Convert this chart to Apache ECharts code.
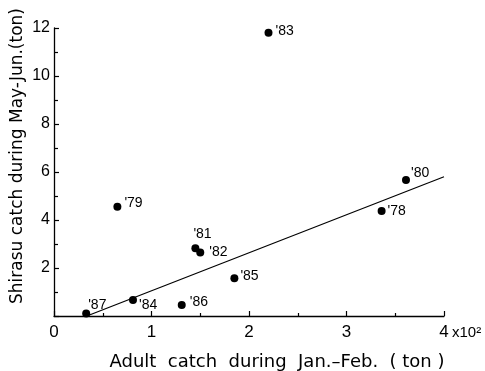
<!DOCTYPE html>
<html>
<head>
<meta charset="utf-8">
<script src="https://cdn.jsdelivr.net/npm/echarts@6/dist/echarts.min.js"></script>
<style>html,body{margin:0;padding:0;background:#fff;}#c{width:485px;height:371px;}</style>
</head>
<body>
<div id="c"></div>
<script>
// Data
var years = ["'87", "'84", "'79", "'86", "'81", "'82", "'85", "'83", "'80", "'78"];
var adultCatch = [0.33, 0.81, 0.65, 1.31, 1.45, 1.50, 1.85, 2.20, 3.61, 3.36]; // x10^2 ton
var shirasuCatch = [0.10, 0.67, 4.55, 0.46, 2.82, 2.65, 1.57, 11.80, 5.67, 4.37]; // ton
var regressionX = [0.35, 4.0];
var regressionY = [0.02, 5.8];
var xTicks = [0, 1, 2, 3, 4];
var yTicks = [0, 2, 4, 6, 8, 10, 12];

// label placement (style, kept separate from data)
var labelOffsets = {
  "'87": [-5, -8], "'84": [-1, 5], "'79": [0, -4], "'86": [1, -3], "'81": [-9, -14],
  "'82": [2, 0], "'85": [-1, -2], "'83": [0, -2], "'80": [-2, -7], "'78": [-1, 0]
};

var font = "'Liberation Sans', Arial, sans-serif";
var pts = years.map(function (y, i) {
  return {
    value: [adultCatch[i], shirasuCatch[i]],
    name: y,
    label: { offset: labelOffsets[y] }
  };
});
var line = regressionX.map(function (x, i) { return [x, regressionY[i]]; });

var chart = echarts.init(document.getElementById('c'), null, { renderer: 'canvas' });
chart.setOption({
  animation: false,
  backgroundColor: '#fff',
  title: {
    text: 'Adult  catch  during  Jan.\u2013Feb.  ( ton )',
    left: 272, top: 348, textAlign: 'center',
    textStyle: { fontFamily: "'DejaVu Sans', sans-serif", fontSize: 18, fontWeight: 'normal', color: '#000' }
  },
  grid: { left: 54, right: 41, top: 28, bottom: 55, containLabel: false, outerBoundsMode: 'none' },
  xAxis: {
    type: 'value', min: 0, max: 4, interval: 1,
    name: 'x10\u00b2', nameLocation: 'end', nameGap: 8, nameMoveOverlap: false,
    nameTextStyle: { fontFamily: font, fontSize: 15, color: '#000', verticalAlign: 'top', padding: [9, 0, 0, 0] },
    axisLine: { show: true, lineStyle: { color: '#000', width: 1.3 } },
    axisTick: { show: true, inside: true, length: 5, lineStyle: { color: '#000', width: 1.2 } },
    minorTick: { show: true, splitNumber: 2, length: 3, lineStyle: { color: '#000', width: 1.2 } },
    splitLine: { show: false },
    axisLabel: {
      fontFamily: font, fontSize: 17, color: '#000', margin: 8,
      formatter: function (v) { return xTicks.indexOf(v) >= 0 ? String(v) : ''; }
    }
  },
  yAxis: {
    type: 'value', min: 0, max: 12, interval: 2,
    name: 'Shirasu catch during May-Jun.(ton)', nameLocation: 'middle', nameGap: 28, nameRotate: 90,
    nameMoveOverlap: false,
    nameTextStyle: { fontFamily: "'DejaVu Sans', sans-serif", fontSize: 17, color: '#000', padding: [0, 0, 0, 32] },
    axisLine: { show: true, lineStyle: { color: '#000', width: 1.3 } },
    axisTick: { show: true, inside: true, length: 5, lineStyle: { color: '#000', width: 1.2 } },
    minorTick: { show: true, splitNumber: 2, length: 4, lineStyle: { color: '#000', width: 1.2 } },
    splitLine: { show: false },
    axisLabel: {
      fontFamily: font, fontSize: 16, color: '#000', margin: 4,
      formatter: function (v) { return (v !== 0 && yTicks.indexOf(v) >= 0) ? String(v) : ''; }
    }
  },
  series: [
    {
      type: 'line', data: line, symbol: 'none', silent: true,
      lineStyle: { color: '#000', width: 1.2 }
    },
    {
      type: 'scatter', data: pts, symbol: 'circle', symbolSize: 8,
      itemStyle: { color: '#000', opacity: 1 },
      label: {
        show: true, position: 'right', distance: 3,
        formatter: function (p) { return p.name; },
        fontFamily: font, fontSize: 14, color: '#000', textBorderWidth: 0
      }
    }
  ]
});
</script>
</body>
</html>
